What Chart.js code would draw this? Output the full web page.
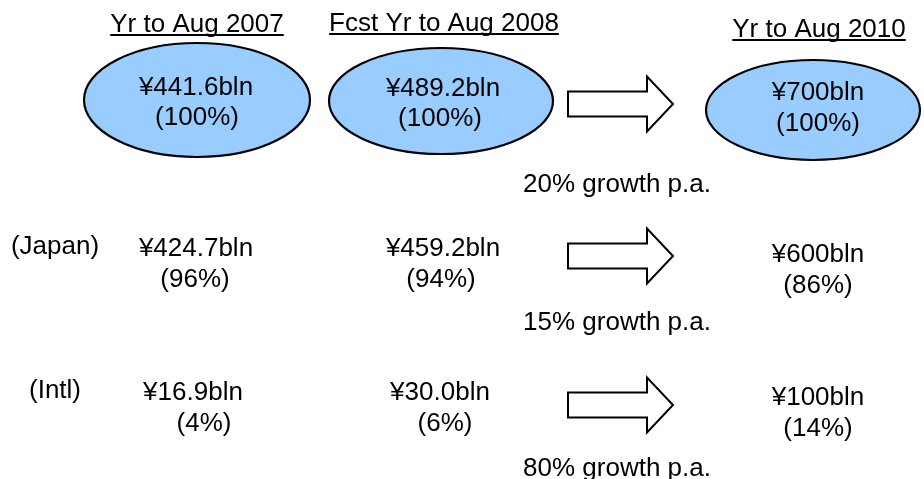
<!DOCTYPE html>
<html>
<head>
<meta charset="utf-8">
<script src="https://cdn.jsdelivr.net/npm/chart.js@4/dist/chart.umd.min.js"></script>
<style>
html,body{margin:0;padding:0;background:#fff;}
#wrap{width:924px;height:479px;position:relative;}
</style>
</head>
<body>
<div id="wrap"><canvas id="c"></canvas></div>
<script>
// ---- data ----
const periods = ["Yr to Aug 2007", "Fcst Yr to Aug 2008", "Yr to Aug 2010"];
const totalValues = ["¥441.6bln", "¥489.2bln", "¥700bln"];
const totalShares = ["100%", "100%", "100%"];
const segments = ["Japan", "Intl"];
const japanValues = ["¥424.7bln", "¥459.2bln", "¥600bln"];
const japanShares = ["96%", "94%", "86%"];
const intlValues = ["¥16.9bln", "¥30.0bln", "¥100bln"];
const intlShares = ["4%", "6%", "14%"];
const growthRates = ["20% growth p.a.", "15% growth p.a.", "80% growth p.a."];

// ---- layout (pixel-space coordinates on a hidden linear scale) ----
const FONT = '26px "Liberation Sans", Arial, sans-serif';
const headerX = [197, 444, 819];
const headerBase = [32, 31, 37];
const ellC = [[197, 100], [441, 101], [813, 110]];
const ellR = [[113, 57], [112, 53], [107, 50]];
const ellValX = [196, 443, 818];
const ellShareX = [197, 440, 818];
const ellValBase = [95, 96, 100];
const ellShareBase = [125, 126, 131];
const rowLabelX = [55, 55];
const rowLabelBase = [254, 398];
const rowValX = [[196, 443, 818], [193, 440, 818]];
const rowShareX = [[195, 441, 818], [204, 445, 818]];
const rowValBase = [[256, 256, 262], [400, 400, 405]];
const rowShareBase = [[287, 287, 293], [431, 431, 436]];
const arrowY = [104, 256, 405];
const growthX = 617;
const growthBase = [192, 330, 476];

const drawPlugin = {
  id: 'infographic',
  afterDatasetsDraw(chart) {
    const ctx = chart.ctx;
    const sx = chart.scales.x, sy = chart.scales.y;
    const X = v => sx.getPixelForValue(v);
    const Y = v => sy.getPixelForValue(v);
    const pxX = d => X(d) - X(0);
    const pxY = d => Math.abs(Y(d) - Y(0));
    ctx.save();
    ctx.textAlign = 'center';
    ctx.textBaseline = 'alphabetic';
    ctx.font = FONT;
    ctx.fillStyle = '#000';

    // headers (underlined)
    periods.forEach((p, i) => {
      const x = X(headerX[i]), y = Y(headerBase[i]);
      ctx.fillStyle = '#000';
      ctx.fillText(p, x, y);
      const w = ctx.measureText(p).width;
      ctx.fillRect(x - w / 2, y + 2, w, 2);
    });

    // ellipses with totals
    periods.forEach((p, i) => {
      const cx = X(ellC[i][0]), cy = Y(ellC[i][1]);
      ctx.beginPath();
      ctx.ellipse(cx, cy, pxX(ellR[i][0]), pxY(ellR[i][1]), 0, 0, Math.PI * 2);
      ctx.fillStyle = '#99ccff';
      ctx.fill();
      ctx.lineWidth = 2.2;
      ctx.strokeStyle = '#000';
      ctx.stroke();
      ctx.fillStyle = '#000';
      ctx.fillText(totalValues[i], X(ellValX[i]), Y(ellValBase[i]));
      ctx.fillText('(' + totalShares[i] + ')', X(ellShareX[i]), Y(ellShareBase[i]));
    });

    // segment rows
    const rows = [[japanValues, japanShares], [intlValues, intlShares]];
    rows.forEach((r, ri) => {
      ctx.fillStyle = '#000';
      ctx.fillText('(' + segments[ri] + ')', X(rowLabelX[ri]), Y(rowLabelBase[ri]));
      for (let i = 0; i < 3; i++) {
        ctx.fillText(r[0][i], X(rowValX[ri][i]), Y(rowValBase[ri][i]));
        ctx.fillText('(' + r[1][i] + ')', X(rowShareX[ri][i]), Y(rowShareBase[ri][i]));
      }
    });

    // block arrows and growth labels
    arrowY.forEach((ay, i) => {
      const x0 = X(568), xh = X(647), xt = X(673);
      const cy = Y(ay);
      const sh = pxY(12.5), hh = pxY(27.5);
      ctx.beginPath();
      ctx.moveTo(x0, cy - sh);
      ctx.lineTo(xh, cy - sh);
      ctx.lineTo(xh, cy - hh);
      ctx.lineTo(xt, cy);
      ctx.lineTo(xh, cy + hh);
      ctx.lineTo(xh, cy + sh);
      ctx.lineTo(x0, cy + sh);
      ctx.closePath();
      ctx.fillStyle = '#fff';
      ctx.fill();
      ctx.lineWidth = 2;
      ctx.lineJoin = 'miter';
      ctx.strokeStyle = '#000';
      ctx.stroke();
      ctx.fillStyle = '#000';
      ctx.fillText(growthRates[i], X(growthX), Y(growthBase[i]));
    });
    ctx.restore();
  }
};

new Chart(document.getElementById('c'), {
  type: 'scatter',
  data: { datasets: [{ data: [], pointRadius: 0 }] },
  options: {
    responsive: true,
    maintainAspectRatio: false,
    animation: false,
    layout: { padding: 0 },
    plugins: { legend: { display: false }, tooltip: { enabled: false } },
    scales: {
      x: { type: 'linear', min: 0, max: 924, display: false },
      y: { type: 'linear', min: 0, max: 479, reverse: true, display: false }
    }
  },
  plugins: [drawPlugin]
});
</script>
</body>
</html>
